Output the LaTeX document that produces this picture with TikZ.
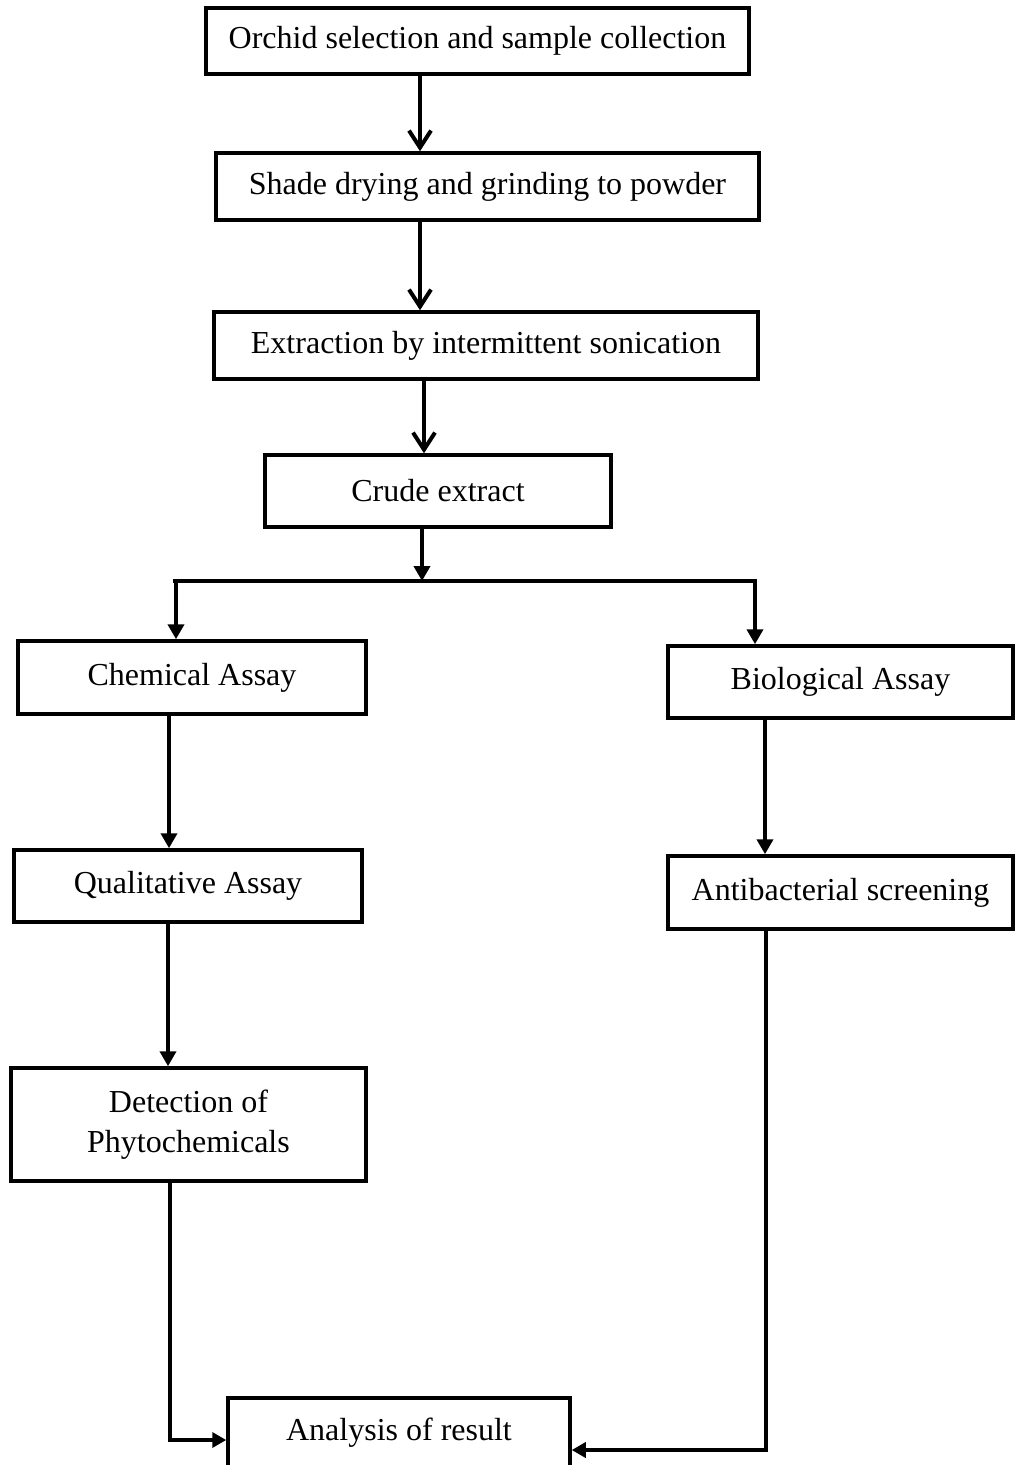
\documentclass[tikz,border=0pt]{standalone}
\usepackage{fontspec}
\setmainfont{Liberation Serif}
\usetikzlibrary{arrows.meta}
\begin{document}
\begin{tikzpicture}[x=1pt,y=1pt,
  box/.style={draw, line width=3.5pt, inner sep=0pt, align=center,
    font=\fontsize{32}{40}\selectfont},
  barb/.style={line width=4pt, -{Straight Barb[length=17pt,width=22pt,line width=4pt]}},
  tri/.style={line width=4pt, -{Triangle[length=15pt,width=16pt]}},
  trih/.style={line width=4pt, -{Triangle[length=14pt,width=15pt]}},
  plain/.style={line width=4pt}]
\clip (0,0) rectangle (1016,-1465);
\fill[white] (0,0) rectangle (1016,-1465);

\node[box, minimum width=543, minimum height=66] (orchid) at (477.5,-41) {Orchid selection and sample collection};
\node[box, minimum width=543, minimum height=67] (shade) at (487.5,-186.5) {Shade drying and grinding to powder};
\node[box, minimum width=544, minimum height=67] (extr) at (486,-345.5) {Extraction by intermittent sonication};
\node[box, minimum width=346, minimum height=72] (crude) at (438,-491) {Crude extract};
\node[box, minimum width=348, minimum height=73] (chem) at (192,-677.5) {Chemical Assay};
\node[box, minimum width=345, minimum height=72] (bio) at (840.5,-682) {Biological Assay};
\node[box, minimum width=348, minimum height=72] (qual) at (188,-886) {Qualitative Assay};
\node[box, minimum width=345, minimum height=73] (anti) at (840.5,-892.5) {Antibacterial screening};
\node[box, minimum width=355, minimum height=113] (detect) at (188.5,-1124.5) {Detection of\\Phytochemicals};
\node[box, minimum width=342, anchor=north, text height=24pt, text depth=60pt, inner ysep=19pt] (ana) at (399,-1396) {Analysis of result};

\coordinate (a1) at (420,0);
\coordinate (a3) at (424,0);
\coordinate (br) at (422,-581);
\coordinate (brL) at (176,-581);
\coordinate (brR) at (755,-581);
\coordinate (c1) at (169,0);
\coordinate (c2) at (168,0);
\coordinate (b1) at (765,0);
\coordinate (dL) at (170,-1440);
\coordinate (dR) at (766,-1450);

\draw[barb] (orchid.south -| a1) -- (shade.north -| a1);
\draw[barb] (shade.south -| a1) -- (extr.north -| a1);
\draw[barb] (extr.south -| a3) -- (crude.north -| a3);
\draw[tri] (crude.south -| br) -- (br);
\draw[plain] ([xshift=-3pt]brL) -- ([xshift=2pt]brR);
\draw[tri] (brL) -- (chem.north -| brL);
\draw[tri] (brR) -- (bio.north -| brR);
\draw[tri] (chem.south -| c1) -- (qual.north -| c1);
\draw[tri] (bio.south -| b1) -- (anti.north -| b1);
\draw[tri] (qual.south -| c2) -- (detect.north -| c2);
\draw[trih] (detect.south -| dL) -- (dL) -- (dL -| ana.west);
\draw[trih] (anti.south -| dR) -- (dR) -- (dR -| ana.east);
\end{tikzpicture}
\end{document}
